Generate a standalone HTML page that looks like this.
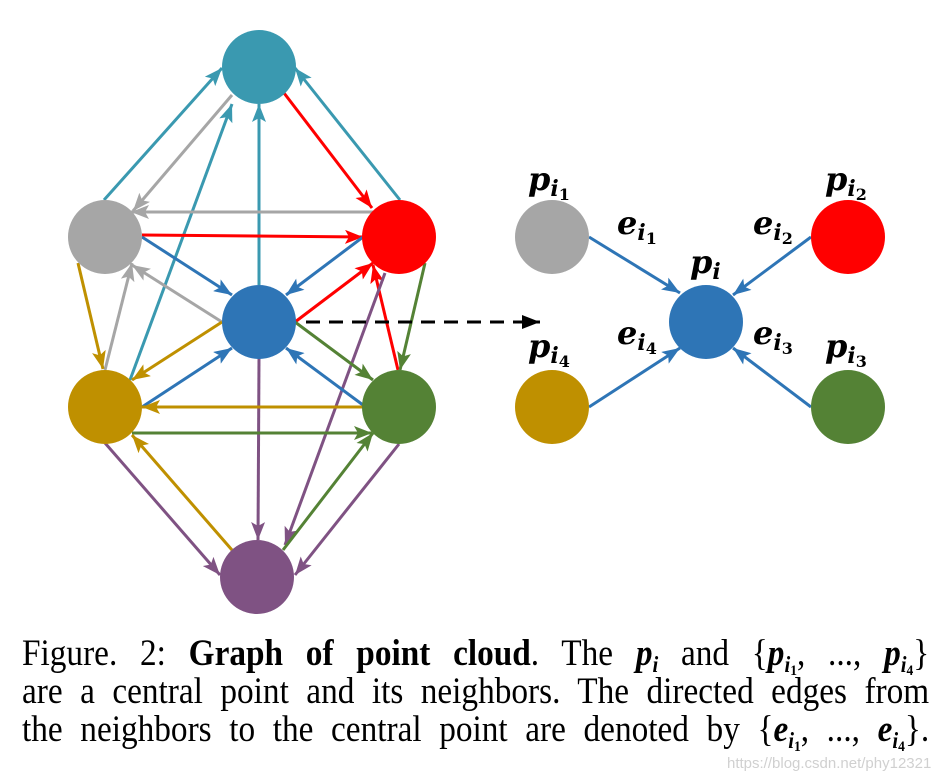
<!DOCTYPE html>
<html><head><meta charset="utf-8"><style>
body{margin:0;background:#fff;width:947px;height:784px;overflow:hidden;position:relative}
.cap{position:absolute;left:22px;width:1008px;transform:scaleX(0.9);transform-origin:0 0;font-family:"Liberation Serif",serif;font-size:37px;color:#000;text-align:justify;text-align-last:justify;white-space:nowrap;line-height:38px}
.cap i{font-style:italic}
.s{font-size:23px;font-style:italic;font-weight:bold;position:relative;top:7px}
.s2{font-size:15px;font-style:normal;position:relative;top:3px}
.wm{position:absolute;left:727px;top:755px;font-family:"Liberation Sans",sans-serif;font-size:15px;color:#d0d0d0}
</style></head><body>
<svg width="947" height="630" style="position:absolute;left:0;top:0" xmlns="http://www.w3.org/2000/svg">
<defs>
<marker id="mt" markerUnits="userSpaceOnUse" markerWidth="20" markerHeight="14" refX="18" refY="7" orient="auto"><path d="M0,0L18,7L0,14L4,7z" fill="#3A99B0"/></marker>
<marker id="mg" markerUnits="userSpaceOnUse" markerWidth="20" markerHeight="14" refX="18" refY="7" orient="auto"><path d="M0,0L18,7L0,14L4,7z" fill="#A6A6A6"/></marker>
<marker id="mr" markerUnits="userSpaceOnUse" markerWidth="20" markerHeight="14" refX="18" refY="7" orient="auto"><path d="M0,0L18,7L0,14L4,7z" fill="#FF0000"/></marker>
<marker id="mb" markerUnits="userSpaceOnUse" markerWidth="20" markerHeight="14" refX="18" refY="7" orient="auto"><path d="M0,0L18,7L0,14L4,7z" fill="#2E75B6"/></marker>
<marker id="mo" markerUnits="userSpaceOnUse" markerWidth="20" markerHeight="14" refX="18" refY="7" orient="auto"><path d="M0,0L18,7L0,14L4,7z" fill="#BF9000"/></marker>
<marker id="mn" markerUnits="userSpaceOnUse" markerWidth="20" markerHeight="14" refX="18" refY="7" orient="auto"><path d="M0,0L18,7L0,14L4,7z" fill="#548235"/></marker>
<marker id="mp" markerUnits="userSpaceOnUse" markerWidth="20" markerHeight="14" refX="18" refY="7" orient="auto"><path d="M0,0L18,7L0,14L4,7z" fill="#7F5283"/></marker>
<marker id="mk" markerUnits="userSpaceOnUse" markerWidth="20" markerHeight="14" refX="18" refY="7" orient="auto"><path d="M0,0L18,7L0,14L0,7z" fill="#000"/></marker>
</defs>
<g stroke-width="3" fill="none">
<line x1="104" y1="200" x2="222" y2="68" stroke="#3A99B0" marker-end="url(#mt)"/>
<line x1="232" y1="95" x2="133" y2="211" stroke="#A6A6A6" marker-end="url(#mg)"/>
<line x1="130" y1="380" x2="232" y2="104" stroke="#3A99B0" marker-end="url(#mt)"/>
<line x1="259" y1="285" x2="259" y2="104" stroke="#3A99B0" marker-end="url(#mt)"/>
<line x1="284" y1="93" x2="372" y2="208" stroke="#FF0000" marker-end="url(#mr)"/>
<line x1="400" y1="200" x2="295" y2="68" stroke="#3A99B0" marker-end="url(#mt)"/>
<line x1="373" y1="212" x2="131" y2="212" stroke="#A6A6A6" marker-end="url(#mg)"/>
<line x1="142" y1="235" x2="363" y2="237" stroke="#FF0000" marker-end="url(#mr)"/>
<line x1="142" y1="237" x2="232" y2="295" stroke="#2E75B6" marker-end="url(#mb)"/>
<line x1="363" y1="237" x2="286" y2="295" stroke="#2E75B6" marker-end="url(#mb)"/>
<line x1="222" y1="322" x2="132" y2="265" stroke="#A6A6A6" marker-end="url(#mg)"/>
<line x1="105" y1="370" x2="132" y2="263" stroke="#A6A6A6" marker-end="url(#mg)"/>
<line x1="78" y1="263" x2="103" y2="369" stroke="#BF9000" marker-end="url(#mo)"/>
<line x1="295" y1="322" x2="373" y2="263" stroke="#FF0000" marker-end="url(#mr)"/>
<line x1="398" y1="370" x2="373" y2="265" stroke="#FF0000" marker-end="url(#mr)"/>
<line x1="425" y1="263" x2="400" y2="370" stroke="#548235" marker-end="url(#mn)"/>
<line x1="385" y1="273" x2="285" y2="545" stroke="#7F5283" marker-end="url(#mp)"/>
<line x1="259" y1="358" x2="258" y2="540" stroke="#7F5283" marker-end="url(#mp)"/>
<line x1="222" y1="322" x2="132" y2="380" stroke="#BF9000" marker-end="url(#mo)"/>
<line x1="142" y1="407" x2="232" y2="348" stroke="#2E75B6" marker-end="url(#mb)"/>
<line x1="295" y1="322" x2="373" y2="380" stroke="#548235" marker-end="url(#mn)"/>
<line x1="363" y1="405" x2="286" y2="348" stroke="#2E75B6" marker-end="url(#mb)"/>
<line x1="363" y1="407" x2="142" y2="407" stroke="#BF9000" marker-end="url(#mo)"/>
<line x1="132" y1="433" x2="372" y2="433" stroke="#548235" marker-end="url(#mn)"/>
<line x1="105" y1="443" x2="220" y2="575" stroke="#7F5283" marker-end="url(#mp)"/>
<line x1="232" y1="550" x2="132" y2="435" stroke="#BF9000" marker-end="url(#mo)"/>
<line x1="283" y1="550" x2="373" y2="433" stroke="#548235" marker-end="url(#mn)"/>
<line x1="399" y1="444" x2="295" y2="575" stroke="#7F5283" marker-end="url(#mp)"/>
<line x1="306" y1="322" x2="540" y2="322" stroke="#000" stroke-dasharray="14,9" marker-end="url(#mk)"/>
<line x1="589" y1="237" x2="680" y2="293" stroke="#2E75B6" marker-end="url(#mb)"/>
<line x1="811" y1="237" x2="733" y2="295" stroke="#2E75B6" marker-end="url(#mb)"/>
<line x1="589" y1="407" x2="680" y2="348" stroke="#2E75B6" marker-end="url(#mb)"/>
<line x1="811" y1="407" x2="733" y2="348" stroke="#2E75B6" marker-end="url(#mb)"/>
</g>
<circle cx="259" cy="67" r="37" fill="#3A99B0"/>
<circle cx="105" cy="237" r="37" fill="#A6A6A6"/>
<circle cx="399" cy="237" r="37" fill="#FF0000"/>
<circle cx="259" cy="322" r="37" fill="#2E75B6"/>
<circle cx="105" cy="407" r="37" fill="#BF9000"/>
<circle cx="399" cy="407" r="37" fill="#548235"/>
<circle cx="257" cy="577" r="37" fill="#7F5283"/>
<circle cx="552" cy="237" r="37" fill="#A6A6A6"/>
<circle cx="848" cy="237" r="37" fill="#FF0000"/>
<circle cx="706" cy="322" r="37" fill="#2E75B6"/>
<circle cx="552" cy="407" r="37" fill="#BF9000"/>
<circle cx="848" cy="407" r="37" fill="#548235"/>
<g font-family="DejaVu Serif,serif" font-weight="bold" font-style="italic" fill="#000">
<text x="528" y="190" font-size="32">p<tspan font-size="22" dy="6">i</tspan><tspan font-size="16" dy="4" font-style="normal">1</tspan></text>
<text x="825" y="190" font-size="32">p<tspan font-size="22" dy="6">i</tspan><tspan font-size="16" dy="4" font-style="normal">2</tspan></text>
<text x="528" y="357" font-size="32">p<tspan font-size="22" dy="6">i</tspan><tspan font-size="16" dy="4" font-style="normal">4</tspan></text>
<text x="825" y="357" font-size="32">p<tspan font-size="22" dy="6">i</tspan><tspan font-size="16" dy="4" font-style="normal">3</tspan></text>
<text x="690" y="273" font-size="32">p<tspan font-size="22" dy="6">i</tspan></text>
<text x="617" y="234" font-size="32">e<tspan font-size="22" dy="6">i</tspan><tspan font-size="16" dy="4" font-style="normal">1</tspan></text>
<text x="753" y="234" font-size="32">e<tspan font-size="22" dy="6">i</tspan><tspan font-size="16" dy="4" font-style="normal">2</tspan></text>
<text x="617" y="344" font-size="32">e<tspan font-size="22" dy="6">i</tspan><tspan font-size="16" dy="4" font-style="normal">4</tspan></text>
<text x="753" y="344" font-size="32">e<tspan font-size="22" dy="6">i</tspan><tspan font-size="16" dy="4" font-style="normal">3</tspan></text>
</g>
</svg>
<div class="cap" style="top:635px">Figure. 2: <b>Graph of point cloud</b>. The <i><b>p</b></i><span class="s">i</span> and {<i><b>p</b></i><span class="s">i<span class="s2">1</span></span>, ..., <i><b>p</b></i><span class="s">i<span class="s2">4</span></span>}</div>
<div class="cap" style="top:673px">are a central point and its neighbors. The directed edges from</div>
<div class="cap" style="top:711px">the neighbors to the central point are denoted by {<i><b>e</b></i><span class="s">i<span class="s2">1</span></span>, ..., <i><b>e</b></i><span class="s">i<span class="s2">4</span></span>}.</div>
<div class="wm">https://blog.csdn.net/phy12321</div>
</body></html>
